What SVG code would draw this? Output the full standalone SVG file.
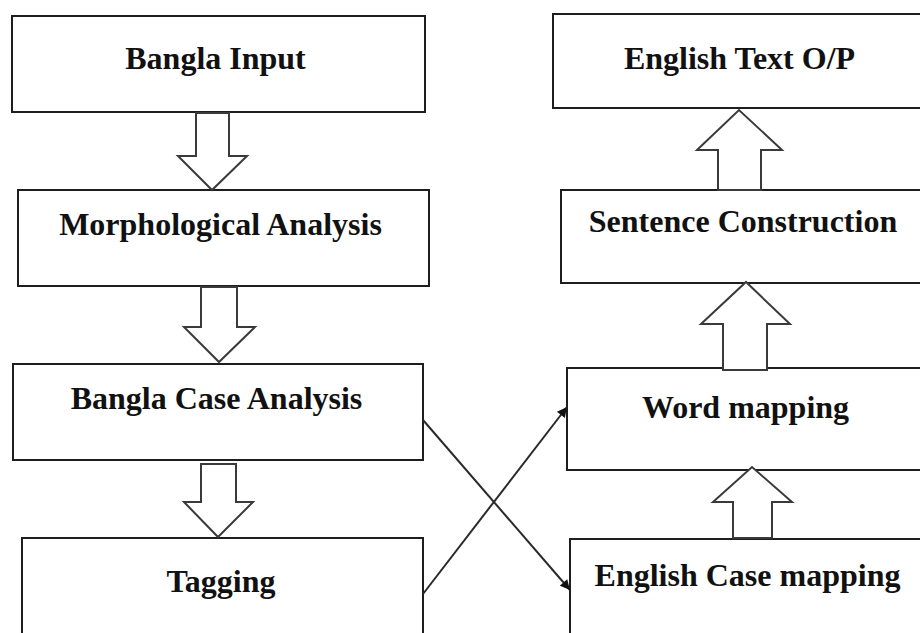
<svg xmlns="http://www.w3.org/2000/svg" width="920" height="633" viewBox="0 0 920 633">
  <style>
    .box { fill: #ffffff; stroke: #1e1e1e; stroke-width: 2; }
    .blk { fill: #ffffff; stroke: #3a3a3a; stroke-width: 2; stroke-linejoin: miter; }
    .lbl { font-family: "Liberation Serif", "Times New Roman", serif; font-weight: bold; font-size: 32px; fill: #111111; text-anchor: middle; }
    .link { stroke: #2a2a2a; stroke-width: 2; fill: none; }
  </style>
  <defs>
    <marker id="tri" viewBox="0 0 10 10" refX="10" refY="5" markerWidth="12" markerHeight="10" markerUnits="userSpaceOnUse" orient="auto">
      <path d="M0,0 L10,5 L0,10 Z" fill="#111111"/>
    </marker>
  </defs>
  <rect width="920" height="633" fill="#ffffff"/>

  <!-- left column -->
  <g id="bangla-input">
    <rect class="box" x="12" y="16" width="413" height="96"/>
    <text class="lbl" x="215.5" y="69">Bangla Input</text>
  </g>
  <g id="morphological-analysis">
    <rect class="box" x="18" y="190" width="411" height="96"/>
    <text class="lbl" x="220.5" y="235">Morphological Analysis</text>
  </g>
  <g id="bangla-case-analysis">
    <rect class="box" x="13" y="364" width="410" height="96"/>
    <text class="lbl" x="216.5" y="409">Bangla Case Analysis</text>
  </g>
  <g id="tagging">
    <rect class="box" x="22" y="538" width="401" height="120"/>
    <text class="lbl" x="221" y="592">Tagging</text>
  </g>

  <!-- right column -->
  <g id="english-text-op">
    <rect class="box" x="553" y="14" width="400" height="94"/>
    <text class="lbl" x="739.5" y="69">English Text O/P</text>
  </g>
  <g id="sentence-construction">
    <rect class="box" x="561" y="190" width="400" height="93"/>
    <text class="lbl" x="743" y="232">Sentence Construction</text>
  </g>
  <g id="word-mapping">
    <rect class="box" x="567" y="368" width="400" height="102"/>
    <text class="lbl" x="745.5" y="418">Word mapping</text>
  </g>
  <g id="english-case-mapping">
    <rect class="box" x="570" y="539" width="400" height="120"/>
    <text class="lbl" x="747.5" y="586">English Case mapping</text>
  </g>

  <!-- connectors -->
  <g id="connectors">
    <!-- block arrows, left column (downward) -->
    <path class="blk" d="M196,113 L229,113 L229,156 L247,156 L212,190 L178,156 L196,156 Z"/>
    <path class="blk" d="M201,287 L237,287 L237,327 L255,327 L219,362 L184,327 L201,327 Z"/>
    <path class="blk" d="M201,464 L236,464 L236,502 L253,502 L218,537 L184,502 L201,502 Z"/>
    <!-- block arrows, right column (upward) -->
    <path class="blk" d="M718,190 L761,190 L761,150 L782,150 L739,110 L697,150 L718,150 Z"/>
    <path class="blk" d="M723,370 L767,370 L767,324 L790,324 L746,282 L701,324 L723,324 Z"/>
    <path class="blk" d="M733,538 L772,538 L772,502 L792,502 L752,467 L713,502 L733,502 Z"/>
    <!-- crossing links -->
    <line class="link" x1="423" y1="420" x2="570" y2="590" marker-end="url(#tri)"/>
    <line class="link" x1="423" y1="594" x2="567" y2="407" marker-end="url(#tri)"/>
  </g>
</svg>
